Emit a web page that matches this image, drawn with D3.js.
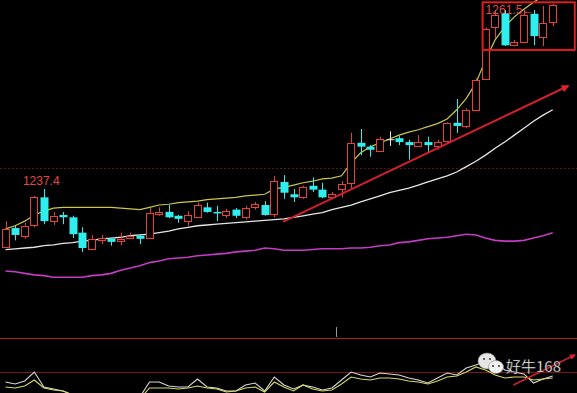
<!DOCTYPE html>
<html><head><meta charset="utf-8">
<script src="https://cdn.jsdelivr.net/npm/d3@7"></script>
<style>html,body{margin:0;padding:0;background:#000;overflow:hidden}svg{display:block}</style>
</head><body>
<script>
// ---- data (price panel) ----
const opens = [1229.8,1232.3,1231.3,1232.6,1236.3,1233.2,1234.0,1233.7,1231.7,1229.6,
1230.7,1230.9,1230.6,1231.0,1231.3,1231.0,1234.1,1234.4,1233.9,1233.2,
1233.7,1235.0,1234.4,1234.0,1234.7,1233.7,1235.0,1235.3,1234.1,1238.3,
1236.7,1236.3,1237.8,1237.3,1236.3,1237.3,1238.2,1243.4,1242.9,1242.3,
1243.8,1244.0,1243.5,1243.0,1243.5,1243.0,1243.6,1246.0,1245.6,1247.7,
1251.7,1258.4,1260.3,1256.1,1256.5,1260.2,1257.2,1259.1];
const highs = [1233.2,1232.6,1233.0,1236.5,1237.4,1234.4,1234.4,1233.9,1232.4,1231.4,
1231.4,1231.0,1231.7,1231.7,1231.4,1234.9,1235.0,1235.3,1234.0,1234.5,
1235.6,1235.6,1235.2,1234.8,1234.9,1235.2,1235.7,1235.8,1239.1,1239.2,
1237.4,1237.8,1238.9,1238.2,1237.0,1238.4,1244.7,1245.2,1243.1,1244.2,
1244.9,1244.3,1243.8,1244.4,1244.2,1243.8,1246.1,1249.1,1247.9,1251.8,
1258.4,1260.7,1260.7,1256.8,1260.7,1260.7,1261.2,1261.5];
const lows = [1229.7,1230.7,1230.9,1232.4,1232.8,1232.7,1232.8,1231.0,1229.2,1229.4,
1230.2,1230.0,1230.1,1230.9,1230.2,1230.9,1233.9,1233.6,1233.0,1232.6,
1233.6,1234.3,1233.2,1233.6,1233.6,1233.4,1234.7,1233.9,1233.7,1236.1,
1235.7,1236.1,1237.0,1236.2,1236.1,1236.3,1237.5,1241.8,1241.6,1242.2,
1243.0,1243.1,1241.2,1242.9,1242.1,1242.5,1243.4,1244.7,1245.3,1247.5,
1251.6,1257.0,1256.0,1256.0,1256.4,1256.1,1256.0,1258.6];
const closes = [1232.2,1231.4,1232.6,1236.3,1233.2,1233.9,1233.7,1231.5,1229.7,1230.9,
1231.0,1230.5,1230.9,1231.3,1230.9,1234.3,1234.4,1233.7,1233.5,1234.0,
1235.3,1234.4,1234.3,1234.5,1233.9,1234.9,1235.4,1234.0,1238.4,1236.9,
1236.3,1237.6,1237.3,1236.3,1236.7,1238.0,1243.4,1242.9,1242.5,1243.9,
1243.8,1243.5,1243.1,1243.5,1243.1,1243.5,1246.0,1245.6,1247.7,1251.6,
1258.2,1260.0,1256.1,1256.5,1260.0,1257.3,1259.0,1261.3];
const maYellow = [1232.2,1232.6,1233.2,1234.0,1234.5,1234.9,1235.0,1235.0,1235.0,1235.0,
1235.0,1235.0,1234.9,1234.8,1234.7,1235.0,1235.3,1235.4,1235.6,1235.7,
1235.8,1236.0,1236.1,1236.2,1236.3,1236.5,1236.6,1236.7,1237.4,1237.6,
1237.9,1238.2,1238.4,1238.7,1238.8,1239.1,1240.8,1242.1,1242.9,1243.4,
1243.9,1244.4,1244.8,1245.1,1245.5,1245.9,1246.5,1247.7,1249.2,1251.2,
1254.2,1256.8,1258.5,1259.8,1260.8,1261.7,1262.5,1263.3];
const maWhite = [1229.5,1229.6,1229.7,1229.8,1230.0,1230.1,1230.3,1230.4,1230.6,1230.7,
1230.9,1231.0,1231.1,1231.3,1231.4,1231.5,1231.7,1231.9,1232.2,1232.4,
1232.6,1232.7,1232.8,1232.9,1233.0,1233.1,1233.2,1233.3,1233.4,1233.5,
1233.7,1233.9,1234.1,1234.3,1234.7,1235.0,1235.3,1235.7,1236.1,1236.5,
1236.9,1237.2,1237.5,1237.9,1238.3,1238.7,1239.1,1239.6,1240.3,1241.0,
1241.8,1242.7,1243.5,1244.4,1245.3,1246.2,1247.0,1247.7];
const maMagenta = [1226.7,1226.6,1226.4,1226.2,1226.1,1225.9,1225.9,1225.9,1225.9,1226.1,
1226.2,1226.4,1226.8,1227.1,1227.4,1227.8,1228.0,1228.3,1228.4,1228.5,
1228.7,1228.8,1228.9,1229.0,1229.2,1229.3,1229.4,1229.7,1229.6,1229.4,
1229.4,1229.4,1229.5,1229.6,1229.6,1229.6,1229.7,1229.7,1229.8,1230.0,
1230.1,1230.4,1230.5,1230.7,1230.9,1231.0,1231.1,1231.3,1231.5,1231.4,
1231.0,1230.7,1230.6,1230.6,1230.7,1231.0,1231.3,1231.7];
// ---- data (indicator panel) ----
const indWhite = [35.3,32.4,36.8,50.0,27.9,25.0,22.1,16.2,11.8,8.8,
8.8,11.8,10.3,8.8,13.2,35.3,35.3,29.4,27.9,27.9,
39.7,27.9,26.5,22.1,22.1,30.9,33.8,22.1,42.6,30.9,
25.0,30.9,27.9,23.5,26.5,38.2,50.0,45.6,42.6,48.5,
47.1,45.6,41.2,38.2,33.8,41.2,48.5,45.6,55.9,60.3,
66.2,64.7,52.9,50.0,47.1,33.8,39.7,44.1];
const indYellow = [27.9,26.5,29.4,38.2,26.5,23.5,22.1,16.2,11.8,8.8,
8.8,10.3,8.8,8.8,10.3,26.5,26.5,26.5,25.0,26.5,
29.4,26.5,25.0,20.6,22.1,26.5,27.9,20.6,35.3,27.9,
22.1,30.9,25.0,22.1,23.5,32.4,42.6,39.7,38.2,41.2,
41.2,39.7,36.8,35.3,32.4,36.8,42.6,44.1,50.0,57.4,
52.9,45.6,41.2,42.6,42.6,38.2,39.7,41.2];
// ---- reference levels / annotations (data units) ----
const priceGrid = [1240.1];
const indGrid = [100, 50];
const trendLine = [[28.9, 1233.1], [58.6, 1250.8]];
const indArrow = [[52.9, 30.9], [59.3, 75.0]];
const boxIdx = [49.7, 59.3];
const boxPrice = [1255.5, 1261.7];
const tickMark = {idx: 34.4, from: 101.5, to: 116.0};
const labelLow = "1237.4";
const labelHigh = "1261.5\u2190";
const watermark = "好牛168";

const W = 577, H = 393;
const n = opens.length;
const x = d3.scaleLinear().domain([0, n - 1]).range([5.5, 552.7]);
const y = d3.scaleLinear().domain([1220, 1262]).range([322.5, 0]);
const yi = d3.scaleLinear().domain([0, 100]).range([406, 338]);

const RED = "#e8403c", CYAN = "#30eeee";
const svg = d3.select("body").append("svg").attr("width", W).attr("height", H)
  .style("background", "#000");

const defs = svg.append("defs");
defs.append("marker").attr("id", "arr").attr("viewBox", "0 0 10 10")
  .attr("refX", 8).attr("refY", 5).attr("markerWidth", 4).attr("markerHeight", 4)
  .attr("orient", "auto").attr("markerUnits", "strokeWidth")
  .append("path").attr("d", "M0,0L10,5L0,10Z").attr("fill", "#e0202a");

// grid lines
svg.selectAll(".pg").data(priceGrid).join("line")
  .attr("x1", 0).attr("x2", W).attr("y1", d => Math.round(y(d)) + 0.5).attr("y2", d => Math.round(y(d)) + 0.5)
  .attr("stroke", "#5a1414").attr("stroke-width", 1).attr("stroke-dasharray", "2,2");
svg.selectAll(".ig").data(indGrid).join("line")
  .attr("x1", 0).attr("x2", W).attr("y1", d => Math.round(yi(d)) + 0.5).attr("y2", d => Math.round(yi(d)) + 0.5)
  .attr("stroke", (d, i) => i === 0 ? "#b01c1c" : "#7a1616").attr("stroke-width", 1);

svg.append("line").attr("x1", Math.round(x(tickMark.idx)) + 0.5).attr("x2", Math.round(x(tickMark.idx)) + 0.5)
  .attr("y1", yi(tickMark.to)).attr("y2", yi(tickMark.from)).attr("stroke", "#9a9a9a");

const idx = d3.range(n);

// MA lines
function drawLine(arr, scale, color, w) {
  svg.append("path").datum(idx)
    .attr("d", d3.line().x(i => x(i)).y(i => scale(arr[i])))
    .attr("fill", "none").attr("stroke", color).attr("stroke-width", w);
}
drawLine(maMagenta, y, "#c43cc4", 1.6);
drawLine(maWhite, y, "#e6e6e6", 1.3);
drawLine(maYellow, y, "#c8c84a", 1.2);

// candles
const bw = 8;
const g = svg.append("g");
idx.forEach(i => {
  const o = opens[i], c = closes[i], h = highs[i], l = lows[i];
  const cx = Math.round(x(i)) + 0.5;
  const up = c > o, flat = c === o;
  const col = flat ? "#e8e8e8" : (up ? RED : CYAN);
  const top = y(Math.max(o, c)), bot = y(Math.min(o, c));
  if (up) {
    g.append("line").attr("x1", cx).attr("x2", cx).attr("y1", y(h)).attr("y2", top).attr("stroke", col);
    g.append("line").attr("x1", cx).attr("x2", cx).attr("y1", bot).attr("y2", y(l)).attr("stroke", col);
    g.append("rect").attr("x", cx - bw / 2).attr("y", Math.round(top) + 0.5)
      .attr("width", bw - 1).attr("height", Math.max(1, Math.round(bot - top)))
      .attr("fill", "#000").attr("stroke", col).attr("stroke-width", 1);
  } else {
    g.append("line").attr("x1", cx).attr("x2", cx).attr("y1", y(h)).attr("y2", y(l)).attr("stroke", col);
    if (flat) {
      g.append("line").attr("x1", cx - bw / 2).attr("x2", cx + bw / 2).attr("y1", top).attr("y2", top).attr("stroke", col);
    } else {
      g.append("rect").attr("x", cx - bw / 2).attr("y", top)
        .attr("width", bw).attr("height", Math.max(1.5, bot - top)).attr("fill", col);
    }
  }
});

// trend arrow
svg.append("line")
  .attr("x1", x(trendLine[0][0])).attr("y1", y(trendLine[0][1]))
  .attr("x2", x(trendLine[1][0])).attr("y2", y(trendLine[1][1]))
  .attr("stroke", "#d0202c").attr("stroke-width", 2).attr("marker-end", "url(#arr)");

// highlight box
svg.append("rect").attr("x", x(boxIdx[0])).attr("y", y(boxPrice[1]))
  .attr("width", x(boxIdx[1]) - x(boxIdx[0])).attr("height", y(boxPrice[0]) - y(boxPrice[1]))
  .attr("fill", "none").attr("stroke", "#e01c1c").attr("stroke-width", 2);

// labels
svg.append("text").attr("x", x(4) - 21).attr("y", y(highs[4]) - 4)
  .attr("fill", "#e04848").attr("font-family", "Liberation Sans, Arial, sans-serif").attr("font-size", 12)
  .text(labelLow);
svg.append("text").attr("x", x(boxIdx[0]) + 3).attr("y", y(highs[n - 1]) + 10)
  .attr("fill", "#d85050").attr("font-family", "Liberation Sans, Arial, sans-serif").attr("font-size", 12)
  .text(labelHigh);

// indicator lines
drawLine(indWhite, yi, "#d8d8d8", 1.1);
drawLine(indYellow, yi, "#d8d860", 1.1);

svg.append("line")
  .attr("x1", x(indArrow[0][0])).attr("y1", yi(indArrow[0][1]))
  .attr("x2", x(indArrow[1][0])).attr("y2", yi(indArrow[1][1]))
  .attr("stroke", "#d0202c").attr("stroke-width", 1.5).attr("marker-end", "url(#arr)");

// watermark (WeChat-like icon + text)
const wm = svg.append("g");
wm.append("ellipse").attr("cx", 487).attr("cy", 361).attr("rx", 9).attr("ry", 8).attr("fill", "#e6e6e6").attr("stroke", "#888").attr("stroke-width", 0.6);
wm.append("ellipse").attr("cx", 496).attr("cy", 367).attr("rx", 7.5).attr("ry", 6.5).attr("fill", "#f2f2f2").attr("stroke", "#888").attr("stroke-width", 0.6);
[[484, 359], [490, 359], [493, 366], [499, 366]].forEach(p =>
  wm.append("circle").attr("cx", p[0]).attr("cy", p[1]).attr("r", 1).attr("fill", "#333"));
wm.append("text").attr("x", 506).attr("y", 372)
  .attr("fill", "#f4f4f4").attr("font-family", "Noto Sans CJK SC, sans-serif").attr("font-size", 15)
  .attr("stroke", "#222").attr("stroke-width", 0.3)
  .text(watermark);
</script>
</body></html>
